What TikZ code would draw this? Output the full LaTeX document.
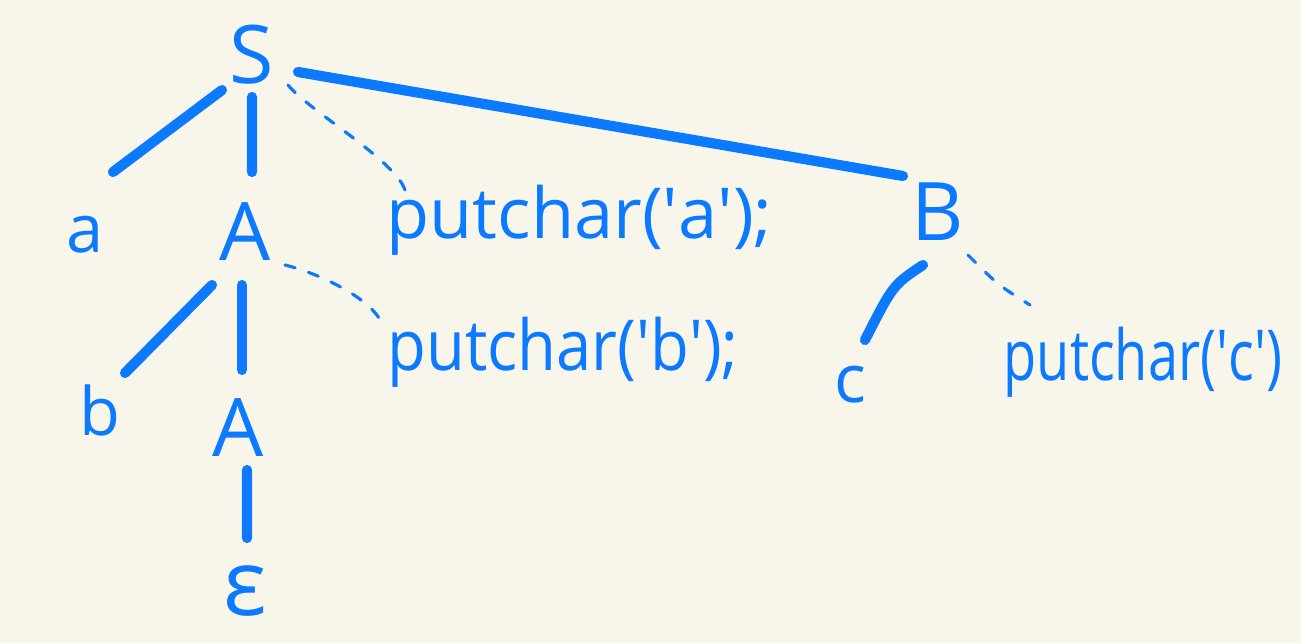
\documentclass[tikz,border=0pt]{standalone}
\usepackage{fontspec}
\setmainfont{Open Sans}
\definecolor{pgcream}{RGB}{248,246,234}
\definecolor{pgblue}{RGB}{12,122,255}

\begin{document}
\begin{tikzpicture}[line width=2.9pt,line cap=round,
  sym/.style={text=pgblue,font=\fontsize{23}{26}\selectfont,inner sep=1pt},
  term/.style={text=pgblue,font=\fontsize{19}{22}\selectfont,inner sep=1pt},
  act/.style={text=pgblue,font=\fontsize{20}{24}\selectfont,inner sep=1pt,anchor=west},
  edge/.style={pgblue,line width=2.9pt},
  sem/.style={pgblue,line width=0.9pt,dash pattern=on 3pt off 4pt}]
  \fill[pgcream] (0,0) rectangle (13.01,6.43);
  \useasboundingbox (0,0) rectangle (13.01,6.43);
  \node[sym] (S) at (2.52,5.88) {S};
  \node[term] (a) at (0.85,4.08) {a};
  \node[sym] (A1) at (2.45,4.11) {A};
  \node[sym] (B) at (9.38,4.31) {B};
  \node[act] (pa) at (3.78,4.23) {putchar(\textquotesingle a\textquotesingle);};
  \node[term] (b) at (1.00,2.33) {b};
  \node[sym] (A2) at (2.38,2.15) {A};
  \node[act,xscale=0.9,transform shape] (pb) at (3.80,2.91) {putchar(\textquotesingle b\textquotesingle);};
  \node[term] (c) at (8.50,2.58) {c};
  \node[act,xscale=0.77,transform shape] (pc) at (9.97,2.81) {putchar(\textquotesingle c\textquotesingle)};
  \node[sym,font=\fontsize{26}{28}\selectfont] (eps) at (2.45,0.52) {ε};
  \draw[edge] ([shift={(-0.30,-0.35)}]S.center) -- ([shift={(0.28,0.63)}]a.center);
  \draw[edge] ([shift={(0,-0.42)}]S.center) -- ([shift={(0.07,0.60)}]A1.center);
  \draw[edge] ([shift={(0.46,-0.17)}]S.center) -- ([shift={(-0.35,0.36)}]B.center);
  \draw[sem] ([shift={(0.36,-0.30)}]S.center) .. controls +(0.2,-0.25) and +(-0.1,0.3) .. ([shift={(0.27,0.30)}]pa.west);
  \draw[edge] ([shift={(-0.33,-0.53)}]A1.center) -- ([shift={(0.25,0.37)}]b.center);
  \draw[edge] ([shift={(-0.03,-0.53)}]A1.center) -- ([shift={(0.04,0.58)}]A2.center);
  \draw[sem] ([shift={(0.40,-0.33)}]A1.center) .. controls +(0.4,-0.1) and +(-0.1,0.2) .. ([shift={(0,0.32)}]pb.west);
  \draw[edge] ([shift={(-0.15,-0.53)}]B.center) .. controls +(-0.3,-0.2) .. ([shift={(0.15,0.45)}]c.center);
  \draw[sem] ([shift={(0.30,-0.43)}]B.center) .. controls +(0.3,-0.3) .. ([shift={(0.33,0.57)}]pc.west);
  \draw[edge] ([shift={(0.09,-0.42)}]A2.center) -- ([shift={(0.02,0.53)}]eps.center);
\end{tikzpicture}
\end{document}
